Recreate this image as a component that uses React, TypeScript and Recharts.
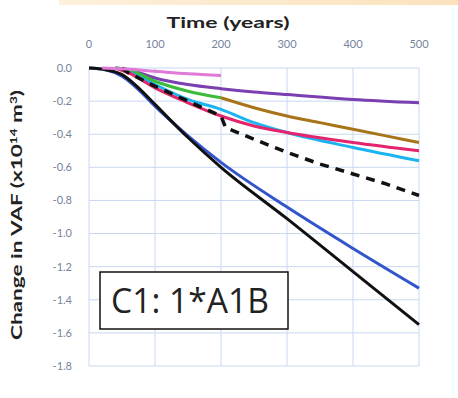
import React from "react";
import { LineChart, Line, XAxis, YAxis, CartesianGrid } from "recharts";

const xTicks = [0, 100, 200, 300, 400, 500];
const yTicks = [0, -0.2, -0.4, -0.6, -0.8, -1.0, -1.2, -1.4, -1.6, -1.8];

const blackSolid = [
  { t: 0, v: 0 }, { t: 25, v: -0.01 }, { t: 50, v: -0.04 }, { t: 75, v: -0.12 },
  { t: 100, v: -0.22 }, { t: 150, v: -0.42 }, { t: 200, v: -0.6 }, { t: 300, v: -0.91 },
  { t: 400, v: -1.23 }, { t: 500, v: -1.55 },
];
const blue = [
  { t: 0, v: 0 }, { t: 25, v: -0.01 }, { t: 50, v: -0.05 }, { t: 75, v: -0.13 },
  { t: 100, v: -0.23 }, { t: 150, v: -0.41 }, { t: 200, v: -0.57 }, { t: 300, v: -0.84 },
  { t: 400, v: -1.09 }, { t: 500, v: -1.33 },
];
const purple = [
  { t: 40, v: 0 }, { t: 60, v: -0.01 }, { t: 100, v: -0.06 }, { t: 150, v: -0.1 },
  { t: 200, v: -0.125 }, { t: 250, v: -0.145 }, { t: 300, v: -0.16 }, { t: 400, v: -0.19 },
  { t: 500, v: -0.21 },
];
const pink = [
  { t: 20, v: 0 }, { t: 50, v: -0.005 }, { t: 100, v: -0.02 }, { t: 150, v: -0.035 },
  { t: 200, v: -0.045 },
];
const green = [
  { t: 40, v: 0 }, { t: 60, v: -0.01 }, { t: 100, v: -0.08 }, { t: 150, v: -0.14 },
  { t: 200, v: -0.18 },
];
const brown = [
  { t: 200, v: -0.18 }, { t: 250, v: -0.24 }, { t: 300, v: -0.29 }, { t: 350, v: -0.33 },
  { t: 400, v: -0.37 }, { t: 450, v: -0.41 }, { t: 500, v: -0.45 },
];
const red = [
  { t: 40, v: 0 }, { t: 60, v: -0.03 }, { t: 100, v: -0.12 }, { t: 150, v: -0.21 },
  { t: 200, v: -0.29 }, { t: 250, v: -0.35 }, { t: 300, v: -0.39 }, { t: 400, v: -0.45 },
  { t: 500, v: -0.5 },
];
const cyan = [
  { t: 40, v: 0 }, { t: 60, v: -0.02 }, { t: 100, v: -0.1 }, { t: 150, v: -0.19 },
  { t: 200, v: -0.25 }, { t: 250, v: -0.33 }, { t: 300, v: -0.39 }, { t: 400, v: -0.48 },
  { t: 500, v: -0.56 },
];
const dashed = [
  { t: 50, v: 0 }, { t: 60, v: -0.03 }, { t: 100, v: -0.11 }, { t: 150, v: -0.2 },
  { t: 200, v: -0.29 }, { t: 207, v: -0.36 }, { t: 250, v: -0.43 }, { t: 300, v: -0.51 },
  { t: 350, v: -0.58 }, { t: 400, v: -0.64 }, { t: 450, v: -0.7 }, { t: 500, v: -0.77 },
];

const tickColor = "#76839c";

const XTick = (props: any) => {
  const { x, payload } = props;
  return (
    <text x={x} y={44} dy="0.35em" textAnchor="middle" fontSize={11} fill={tickColor} fontFamily="Lato, sans-serif">
      {payload.value}
    </text>
  );
};

const YTick = (props: any) => {
  const { y, payload } = props;
  return (
    <text x={72} y={y} dy="0.35em" textAnchor="end" fontSize={11} fill={tickColor} fontFamily="Lato, sans-serif">
      {Number(payload.value).toFixed(1)}
    </text>
  );
};

const series = [
  { data: blue, color: "#3355cc", w: 3, dash: undefined, kind: "monotone" },
  { data: blackSolid, color: "#111111", w: 3, dash: undefined, kind: "monotone" },
  { data: brown, color: "#a8741a", w: 3, dash: undefined, kind: "monotone" },
  { data: purple, color: "#7a3fb0", w: 3, dash: undefined, kind: "monotone" },
  { data: cyan, color: "#1cb4f0", w: 3, dash: undefined, kind: "monotone" },
  { data: red, color: "#e2256c", w: 3, dash: undefined, kind: "monotone" },
  { data: green, color: "#3cba3c", w: 3, dash: undefined, kind: "monotone" },
  { data: dashed, color: "#111111", w: 3.5, dash: "9 7", kind: "linear" },
  { data: pink, color: "#e07ad8", w: 3, dash: undefined, kind: "monotone" },
];

export default function App() {
  return (
    <div style={{ position: "relative", width: 458, height: 398, background: "#ffffff" }}>
      <style>{`body{margin:0}`}</style>
      <LineChart
        width={458}
        height={398}
        margin={{ top: 38, right: 39, bottom: 32, left: 39 }}
      >
        <CartesianGrid stroke="#c8d8f2" strokeWidth={1} />
        <XAxis
          type="number"
          dataKey="t"
          orientation="top"
          domain={[0, 500]}
          ticks={xTicks}
          height={30}
          axisLine={false}
          tickLine={false}
          tick={<XTick />}
          allowDuplicatedCategory={false}
        />
        <YAxis
          type="number"
          dataKey="v"
          domain={[-1.8, 0]}
          ticks={yTicks}
          width={50}
          axisLine={false}
          tickLine={false}
          tick={<YTick />}
        />
        {series.map((s, i) => (
          <Line
            key={i}
            data={s.data}
            dataKey="v"
            type={s.kind as any}
            stroke={s.color}
            strokeWidth={s.w}
            strokeDasharray={s.dash}
            dot={false}
            isAnimationActive={false}
          />
        ))}
      </LineChart>
      <svg
        width={458}
        height={398}
        style={{ position: "absolute", left: 0, top: 0, pointerEvents: "none" }}
      >
        <defs>
          <linearGradient id="band" x1="0" x2="1" y1="0" y2="0">
            <stop offset="0" stopColor="#fdf0dc" />
            <stop offset="1" stopColor="#fbe2bc" />
          </linearGradient>
        </defs>
        <rect x={59} y={0} width={399} height={5} fill="url(#band)" />
        <line x1={453} y1={8} x2={453} y2={398} stroke="#eef3fa" strokeWidth={1} />
        <text
          x={228}
          y={22}
          dy="0.35em"
          textAnchor="middle"
          fontSize={16}
          fontWeight="bold"
          fill="#222"
          fontFamily="Lato, sans-serif"
          textLength={123}
          lengthAdjust="spacingAndGlyphs"
        >
          Time (years)
        </text>
        <text
          transform="translate(17,215) rotate(-90)"
          textAnchor="middle"
          dy="0.35em"
          fontSize={15}
          fontWeight="bold"
          fill="#222"
          fontFamily="Lato, sans-serif"
          textLength={250}
          lengthAdjust="spacingAndGlyphs"
        >
          Change in VAF (x10<tspan fontSize={9} dy={-5}>14</tspan>
          <tspan dy={5}> m</tspan>
          <tspan fontSize={9} dy={-5}>3</tspan>
          <tspan dy={5}>)</tspan>
        </text>
        <rect x={100} y={272} width={188} height={57} fill="#ffffff" stroke="#111" strokeWidth={1.5} />
        <text
          x={111}
          y={313}
          fontSize={34}
          fill="#222"
          fontFamily="'Open Sans', sans-serif"
          textLength={158}
          lengthAdjust="spacingAndGlyphs"
        >
          C1: 1*A1B
        </text>
      </svg>
    </div>
  );
}
